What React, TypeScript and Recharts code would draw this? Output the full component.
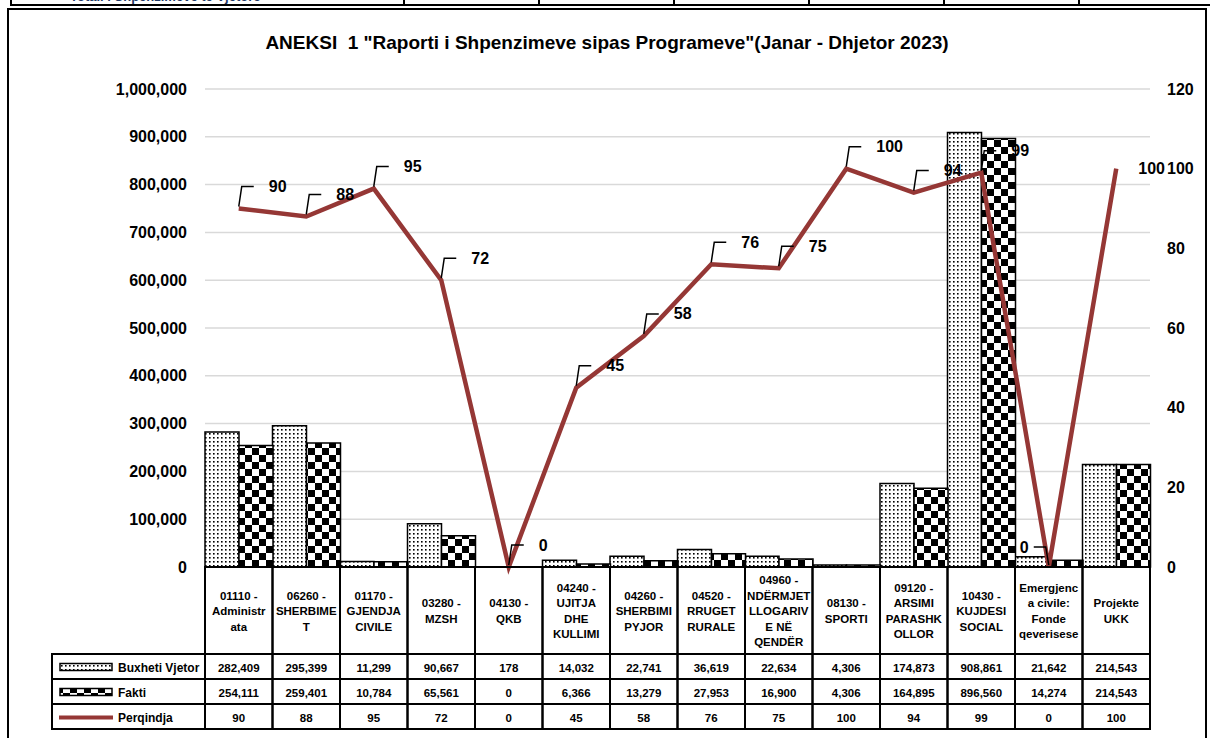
import { ComposedChart, Bar, Line, XAxis, YAxis, CartesianGrid } from 'recharts';

const categories = [
  '01110 -\nAdministr\nata',
  '06260 -\nSHERBIME\nT',
  '01170 -\nGJENDJA\nCIVILE',
  '03280 -\nMZSH',
  '04130 -\nQKB',
  '04240 -\nUJITJA\nDHE\nKULLIMI',
  '04260 -\nSHERBIMI\nPYJOR',
  '04520 -\nRRUGET\nRURALE',
  '04960 -\nNDËRMJET\nLLOGARIV\nE NË\nQENDËR',
  '08130 -\nSPORTI',
  '09120 -\nARSIMI\nPARASHK\nOLLOR',
  '10430 -\nKUJDESI\nSOCIAL',
  'Emergjenc\na civile:\nFonde\nqeverisese',
  'Projekte\nUKK',
];
const buxheti = [282409, 295399, 11299, 90667, 178, 14032, 22741, 36619, 22634, 4306, 174873, 908861, 21642, 214543];
const fakti = [254111, 259401, 10784, 65561, 0, 6366, 13279, 27953, 16900, 4306, 164895, 896560, 14274, 214543];
const perqindja = [90, 88, 95, 72, 0, 45, 58, 76, 75, 100, 94, 99, 0, 100];
const leftTicks = [0, 100000, 200000, 300000, 400000, 500000, 600000, 700000, 800000, 900000, 1000000];
const rightTicks = [0, 20, 40, 60, 80, 100, 120];
const seriesNames = ['Buxheti Vjetor', 'Fakti', 'Perqindja'];

const data = categories.map((cat, i) => ({
  cat,
  buxheti: buxheti[i],
  fakti: fakti[i],
  perq: perqindja[i],
}));

const FONT = '"Liberation Sans", Arial, sans-serif';
const RED = '#953735';
const PLOT_LEFT = 205;
const PLOT_RIGHT = 1150;
const BAND = (PLOT_RIGHT - PLOT_LEFT) / categories.length;
const AXIS_Y = 567;
const ROWS = [654, 679, 704, 729];

const fmt = (v: number) => v.toLocaleString('en-US');

function TableTick(props: any) {
  const { x, payload } = props;
  const i = categories.indexOf(payload.value);
  const left = x - BAND / 2;
  const lines = String(payload.value).split('\n');
  const lh = 15.5;
  const startY = 611 - ((lines.length - 1) * lh) / 2;
  const rowVals = [fmt(buxheti[i]), fmt(fakti[i]), String(perqindja[i])];
  const cell = { fill: 'none', stroke: '#000', strokeWidth: 2 };
  const txt = { fontFamily: FONT, fontWeight: 700, fill: '#000' } as const;
  return (
    <g>
      <rect x={left} y={AXIS_Y} width={BAND} height={ROWS[0] - AXIS_Y} {...cell} />
      {lines.map((l, k) => (
        <text key={k} x={x} y={startY + k * lh} textAnchor="middle" dominantBaseline="central" fontSize={11.5} {...txt}>
          {l}
        </text>
      ))}
      {rowVals.map((v, r) => (
        <g key={r}>
          <rect x={left} y={ROWS[r]} width={BAND} height={ROWS[r + 1] - ROWS[r]} {...cell} />
          <text x={x} y={(ROWS[r] + ROWS[r + 1]) / 2 + 1} textAnchor="middle" dominantBaseline="central" fontSize={11.5} {...txt}>
            {v}
          </text>
        </g>
      ))}
      {i === 0 && (
        <g>
          {seriesNames.map((name, r) => {
            const cy = (ROWS[r] + ROWS[r + 1]) / 2 + 1;
            return (
              <g key={name}>
                <rect x={52} y={ROWS[r]} width={left - 52} height={ROWS[r + 1] - ROWS[r]} {...cell} />
                {r === 0 && <rect x={60} y={cy - 4} width={52} height={7} fill="url(#dotsPat)" stroke="#000" strokeWidth={1.5} />}
                {r === 1 && <rect x={60} y={cy - 4} width={52} height={7} fill="url(#checkPat)" stroke="#000" strokeWidth={1.5} />}
                {r === 2 && <line x1={59} x2={113} y1={cy} y2={cy} stroke={RED} strokeWidth={4} />}
                <text x={118} y={cy} dominantBaseline="central" fontSize={12} {...txt}>
                  {name}
                </text>
              </g>
            );
          })}
        </g>
      )}
    </g>
  );
}

function PctLabel(props: any) {
  const { x, y, value, index } = props;
  const st = { fontFamily: FONT, fontWeight: 700, fontSize: 16, fill: '#000' } as const;
  if (index === categories.length - 1) {
    return (
      <text x={x + 22} y={y} dominantBaseline="central" {...st}>
        {value}
      </text>
    );
  }
  // the second zero sits left of its point, as in the source
  if (value === 0 && index > 5) {
    return (
      <g>
        <polyline points={`${x},${y - 2} ${x - 3},${y - 20} ${x - 15},${y - 20}`} fill="none" stroke="#000" strokeWidth={1.5} />
        <text x={x - 20} y={y - 20} textAnchor="end" dominantBaseline="central" {...st}>
          {value}
        </text>
      </g>
    );
  }
  return (
    <g>
      <polyline points={`${x},${y - 2} ${x + 3},${y - 22} ${x + 15},${y - 22}`} fill="none" stroke="#000" strokeWidth={1.5} />
      <text x={x + 30} y={y - 22} dominantBaseline="central" {...st}>
        {value}
      </text>
    </g>
  );
}

export default function App() {
  return (
    <div style={{ position: 'absolute', left: 0, top: 0, width: 1210, height: 738, overflow: 'hidden', background: '#fff', fontFamily: FONT }}>
      {/* strip of the table above, cut off at the top edge */}
      <div style={{ position: 'absolute', left: 10, top: -2, width: 1210, height: 6, borderLeft: '2px solid #000', borderBottom: '2px solid #000', overflow: 'hidden' }}>
        <div style={{ position: 'absolute', left: 58, top: -9, fontSize: 13, fontWeight: 700, color: '#1f3864', whiteSpace: 'nowrap' }}>
          Totali i Shpenzimeve te Vjetore
        </div>
        {[391, 526, 661, 796, 931, 1066].map((vx) => (
          <div key={vx} style={{ position: 'absolute', left: vx, top: 0, width: 2, height: 8, background: '#000' }} />
        ))}
      </div>
      <div style={{ position: 'absolute', left: 7, top: 8, width: 1196, height: 760, border: '2px solid #000' }} />
      <div style={{ position: 'absolute', left: 9, top: 32, width: 1196, textAlign: 'center', fontSize: 19, fontWeight: 700, color: '#000' }}>
        ANEKSI&nbsp; 1 "Raporti i Shpenzimeve sipas Programeve"(Janar - Dhjetor 2023)
      </div>
      <div style={{ position: 'absolute', left: 0, top: 0 }}>
        <ComposedChart
          width={1210}
          height={738}
          data={data}
          margin={{ top: 89, right: 10, bottom: 6, left: 10 }}
          barCategoryGap={0}
          barGap={0}
        >
          <defs>
            <pattern id="dotsPat" patternUnits="userSpaceOnUse" width={4} height={4}>
              <rect width={4} height={4} fill="#fff" />
              <rect x={1} y={1} width={1.6} height={1.6} fill="#000" />
            </pattern>
            <pattern id="checkPat" patternUnits="userSpaceOnUse" width={14} height={14}>
              <rect width={14} height={14} fill="#fff" />
              <rect x={0} y={0} width={7} height={7} fill="#000" />
              <rect x={7} y={7} width={7} height={7} fill="#000" />
            </pattern>
          </defs>
          <CartesianGrid vertical={false} yAxisId="left" stroke="#d9d9d9" strokeWidth={1.5} />
          <XAxis
            dataKey="cat"
            height={165}
            interval={0}
            tickLine={false}
            axisLine={{ stroke: '#000', strokeWidth: 2 }}
            tick={<TableTick />}
          />
          <YAxis
            yAxisId="left"
            width={195}
            domain={[0, 1000000]}
            ticks={leftTicks}
            tickFormatter={fmt}
            axisLine={false}
            tickLine={false}
            tickSize={0}
            tickMargin={18}
            tick={{ fill: '#000', fontSize: 16, fontWeight: 700, fontFamily: FONT }}
          />
          <YAxis
            yAxisId="right"
            orientation="right"
            width={50}
            domain={[0, 120]}
            ticks={rightTicks}
            axisLine={false}
            tickLine={false}
            tickSize={0}
            tickMargin={17}
            tick={{ fill: '#000', fontSize: 16, fontWeight: 700, fontFamily: FONT }}
          />
          <Bar yAxisId="left" dataKey="buxheti" name="Buxheti Vjetor" fill="url(#dotsPat)" stroke="#000" strokeWidth={1.5} isAnimationActive={false} />
          <Bar yAxisId="left" dataKey="fakti" name="Fakti" fill="url(#checkPat)" stroke="#000" strokeWidth={1.5} isAnimationActive={false} />
          <Line
            yAxisId="right"
            dataKey="perq"
            name="Perqindja"
            type="linear"
            stroke={RED}
            strokeWidth={4.5}
            dot={false}
            activeDot={false}
            label={(p: any) => <PctLabel {...p} />}
            isAnimationActive={false}
          />
        </ComposedChart>
      </div>
    </div>
  );
}
